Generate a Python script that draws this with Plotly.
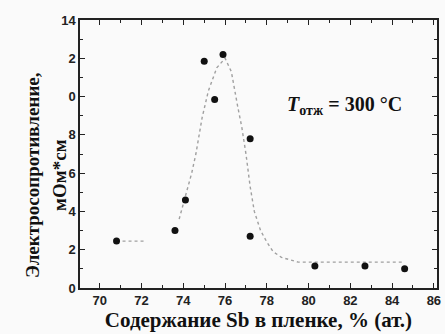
import plotly.graph_objects as go

# measured points
sb_content = [70.8, 73.6, 74.1, 75.0, 75.5, 75.9, 77.2, 77.2, 80.3, 82.7, 84.6]
resistivity = [2.45, 3.0, 4.6, 11.85, 9.85, 12.2, 7.8, 2.7, 1.15, 1.15, 1.0]

# hand-drawn dotted guide curve
guide_x = [70.8, 71.5, 72.2, None, 73.8, 74.1, 74.4, 74.6, 74.9, 75.2, 75.6, 76.0,
           76.3, 76.6, 76.8, 77.0, 77.2, 77.4, 77.7, 78.0, 78.3, 78.7, 79.5, 80.5,
           82.0, 83.5, 84.5]
guide_y = [2.45, 2.45, 2.45, None, 3.6, 4.8, 6.0, 7.0, 8.9, 10.3, 11.5, 12.0,
           11.3, 9.5, 8.4, 7.0, 5.3, 4.0, 3.0, 2.4, 1.9, 1.6, 1.35, 1.35,
           1.35, 1.35, 1.35]

y_ticks = [0, 2, 4, 6, 8, 10, 12, 14]
y_ticktext = ["0", "2", "4", "6", "8", "0", "2", "14"]
x_ticks = [70, 72, 74, 76, 78, 80, 82, 84, 86]
y_title_lines = ["Электросопротивление,", "мОм*см"]

fig = go.Figure()
fig.add_trace(go.Scatter(x=guide_x, y=guide_y, mode="lines",
                         line=dict(color="#a0a0a0", width=1.4, dash="dot"),
                         connectgaps=False, hoverinfo="skip", showlegend=False))
fig.add_trace(go.Scatter(x=sb_content, y=resistivity, mode="markers",
                         marker=dict(color="#111", size=7, symbol="circle"),
                         showlegend=False))

fig.add_annotation(x=81.74, y=9.55, xref="x", yref="y", showarrow=False,
                   text="<i>T</i><sub>отж</sub> = 300 °C",
                   font=dict(family="Liberation Serif", size=20, color="#111", weight="bold"))

ytitle_font = dict(family="Liberation Serif", size=19, color="#111", weight="bold")
fig.add_annotation(x=0, y=0.42, xref="paper", yref="paper", xshift=-60, showarrow=False,
                   textangle=-90, text=y_title_lines[0], font=ytitle_font)
fig.add_annotation(x=0, y=0.42, xref="paper", yref="paper", xshift=-33, showarrow=False,
                   textangle=-90, text=y_title_lines[1], font=ytitle_font)

axis_common = dict(showline=True, linecolor="#222", linewidth=1.5, mirror="ticks",
                   ticks="inside", ticklen=5, tickwidth=1.2, tickcolor="#222",
                   showgrid=False, zeroline=False, automargin=False,
                   tickfont=dict(family="Liberation Sans", size=13, color="#222", weight="bold"),
                   minor=dict(ticks="inside", ticklen=3, tickcolor="#222", dtick=1))

fig.update_xaxes(range=[69.05, 86.15], tickvals=x_ticks, **axis_common,
                 title=dict(text="Содержание Sb в пленке, % (ат.)", standoff=2,
                            font=dict(family="Liberation Serif", size=21, color="#111", weight="bold")))
fig.update_yaxes(range=[0, 14], tickvals=y_ticks, ticktext=y_ticktext, **axis_common)

fig.update_layout(width=445, height=334, margin=dict(l=80, r=8, t=20, b=46),
                  paper_bgcolor="#fafafa", plot_bgcolor="#fafafa")

fig.write_html("out.html", config={"displayModeBar": False},
               post_script="document.body.style.margin='0px';")
